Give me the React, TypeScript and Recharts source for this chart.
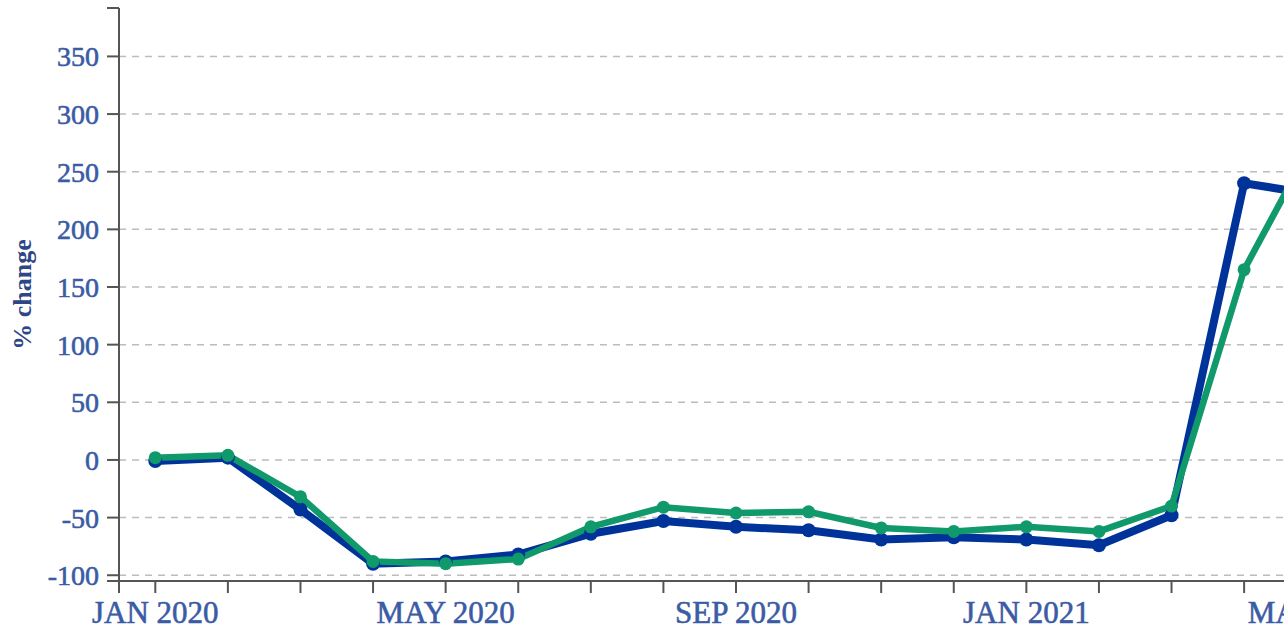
import { CartesianGrid, Line, LineChart, XAxis, YAxis, Label } from "recharts";

const months = [
  "JAN 2020", "FEB 2020", "MAR 2020", "APR 2020", "MAY 2020", "JUN 2020",
  "JUL 2020", "AUG 2020", "SEP 2020", "OCT 2020", "NOV 2020", "DEC 2020",
  "JAN 2021", "FEB 2021", "MAR 2021", "APR 2021", "MAY 2021",
];
const blueValues = [-1, 2, -43, -90, -88, -82, -64, -53, -58, -61, -69, -67, -69, -74, -48, 240, 230];
const greenValues = [2, 4, -32, -88, -90, -86, -58, -41, -46, -45, -59, -62, -58, -62, -40, 165, 282];
const yTicks = [-100, -50, 0, 50, 100, 150, 200, 250, 300, 350];
const yDomain: [number, number] = [-105, 392];

const data = months.map((month, i) => ({
  i,
  month,
  blue: blueValues[i],
  green: greenValues[i],
}));

const labelColor = "#3b5ba5";
const axisColor = "#555";

function AxisTitle({ viewBox }: any) {
  const cx = viewBox.x + 22;
  const cy = viewBox.y + viewBox.height / 2;
  return (
    <text
      x={cx}
      y={cy}
      transform={`rotate(-90, ${cx}, ${cy})`}
      textAnchor="middle"
      dominantBaseline="central"
      fill="#2e4686"
      fontSize={26}
      fontWeight="bold"
    >
      % change
    </text>
  );
}

export default function App() {
  return (
    <div style={{ position: "fixed", left: 0, top: 0, width: 1284, height: 629, overflow: "hidden", background: "#fff" }}>
      <LineChart
        width={1373}
        height={629}
        data={data}
        margin={{ top: 8, right: 20, bottom: 0, left: 0 }}
        style={{ fontFamily: '"Liberation Serif", "Times New Roman", serif' }}
      >
        <CartesianGrid
          vertical={false}
          horizontalValues={yTicks}
          stroke="#bcbcbc"
          strokeWidth={1.5}
          strokeDasharray="7 6"
        />
        <XAxis
          dataKey="i"
          type="number"
          domain={[-0.5, months.length - 0.5]}
          ticks={[-0.5, ...months.map((_, i) => i)]}
          interval={0}
          allowDataOverflow
          tickFormatter={(v: number) => (Number.isInteger(v) && v % 4 === 0 ? months[v] : "")}
          tickSize={12}
          tickMargin={8}
          height={48}
          axisLine={{ stroke: axisColor, strokeWidth: 2 }}
          tickLine={{ stroke: axisColor, strokeWidth: 2 }}
          tick={{ fill: labelColor, fontSize: 31, stroke: labelColor, strokeWidth: 0.6 }}
        />
        <YAxis
          type="number"
          domain={yDomain}
          ticks={[yDomain[0], ...yTicks, yDomain[1]]}
          interval={0}
          allowDataOverflow
          tickFormatter={(v: number) => (yTicks.includes(v) ? String(v) : "")}
          width={119}
          tickSize={12}
          tickMargin={8}
          axisLine={{ stroke: axisColor, strokeWidth: 2 }}
          tickLine={{ stroke: axisColor, strokeWidth: 2 }}
          tick={{ fill: labelColor, fontSize: 28, stroke: labelColor, strokeWidth: 0.6 }}
        >
          <Label content={AxisTitle} />
        </YAxis>
        <Line
          type="linear"
          dataKey="blue"
          stroke="#003399"
          strokeWidth={8}
          dot={{ r: 7, fill: "#003399", stroke: "#003399", strokeWidth: 0 }}
          isAnimationActive={false}
        />
        <Line
          type="linear"
          dataKey="green"
          stroke="#10996b"
          strokeWidth={6.5}
          dot={{ r: 6.5, fill: "#10996b", stroke: "#10996b", strokeWidth: 0 }}
          isAnimationActive={false}
        />
      </LineChart>
    </div>
  );
}
